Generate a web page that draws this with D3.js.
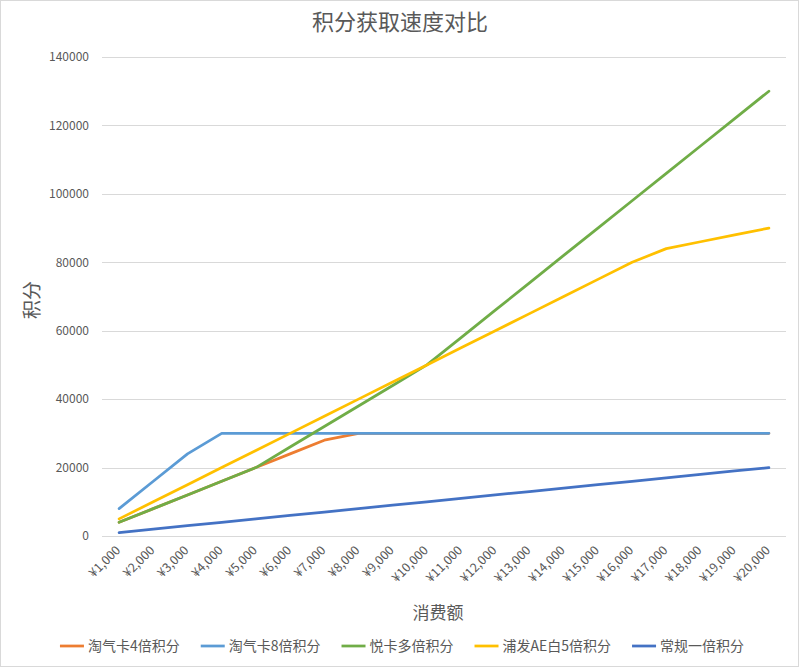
<!DOCTYPE html>
<html><head><meta charset="utf-8">
<script src="https://cdn.jsdelivr.net/npm/d3@7/dist/d3.min.js"></script>
<style>body{margin:0;background:#fff}svg{display:block}</style>
</head><body>
<svg id="chart" width="800" height="668"></svg>
<script>
const categories = ["¥1,000","¥2,000","¥3,000","¥4,000","¥5,000","¥6,000","¥7,000","¥8,000","¥9,000","¥10,000","¥11,000","¥12,000","¥13,000","¥14,000","¥15,000","¥16,000","¥17,000","¥18,000","¥19,000","¥20,000"];
const taoqi4 = [4000,8000,12000,16000,20000,24000,28000,30000,30000,30000,30000,30000,30000,30000,30000,30000,30000,30000,30000,30000];
const taoqi8 = [8000,16000,24000,30000,30000,30000,30000,30000,30000,30000,30000,30000,30000,30000,30000,30000,30000,30000,30000,30000];
const yueka = [4000,8000,12000,16000,20000,26000,32000,38000,44000,50000,58000,66000,74000,82000,90000,98000,106000,114000,122000,130000];
const pufaAE = [5000,10000,15000,20000,25000,30000,35000,40000,45000,50000,55000,60000,65000,70000,75000,80000,84000,86000,88000,90000];
const normal = [1000,2000,3000,4000,5000,6000,7000,8000,9000,10000,11000,12000,13000,14000,15000,16000,17000,18000,19000,20000];
const seriesNames = ["淘气卡4倍积分","淘气卡8倍积分","悦卡多倍积分","浦发AE白5倍积分","常规一倍积分"];
const seriesColors = ["#ED7D31","#5B9BD5","#70AD47","#FFC000","#4472C4"];
const yTicks = [0,20000,40000,60000,80000,100000,120000,140000];
const series = [taoqi4, taoqi8, yueka, pufaAE, normal];

const svg = d3.select("#chart");
const font = "'Noto Sans CJK SC','Noto Sans',sans-serif";
const txt = "#595959";
const L = 102, R = 786, T = 57, B = 536;

svg.append("rect").attr("x",0.5).attr("y",0.5).attr("width",798).attr("height",666)
  .attr("fill","#fff").attr("stroke","#d9d9d9");

const x = d3.scaleBand().domain(categories).range([L, R]).padding(0);
const y = d3.scaleLinear().domain([0, 140000]).range([B, T]);
const cx = c => x(c) + x.bandwidth()/2;

// gridlines
svg.append("g").selectAll("line").data(yTicks).join("line")
  .attr("x1", L).attr("x2", R).attr("y1", d => Math.round(y(d))+0.5).attr("y2", d => Math.round(y(d))+0.5)
  .attr("stroke", "#d9d9d9").attr("stroke-width", 1);

// y axis labels
const yAxis = svg.append("g").attr("transform", `translate(${L},0)`)
  .call(d3.axisLeft(y).tickValues(yTicks).tickSize(0).tickPadding(13).tickFormat(d3.format("d")));
yAxis.select(".domain").remove();
yAxis.selectAll("text").attr("font-family", font).attr("font-size", 12).attr("fill", txt);

// x axis labels
const xAxis = svg.append("g").attr("transform", `translate(0,${B})`)
  .call(d3.axisBottom(x).tickSize(0).tickPadding(0));
xAxis.select(".domain").remove();
xAxis.selectAll("text")
  .attr("font-family", font).attr("font-size", 12.5).attr("fill", txt)
  .attr("text-anchor", "end").attr("dy", null)
  .attr("transform", "translate(2,15) rotate(-45)");

// lines
const line = d3.line().x((d,i) => cx(categories[i])).y(d => y(d));
svg.append("g").selectAll("path").data(series).join("path")
  .attr("d", d => line(d)).attr("fill", "none")
  .attr("stroke", (d,i) => seriesColors[i]).attr("stroke-width", 2.75)
  .attr("stroke-linejoin", "round").attr("stroke-linecap", "round");

// titles
svg.append("text").attr("x", 400).attr("y", 30).attr("text-anchor", "middle")
  .attr("font-family", font).attr("font-size", 22).attr("fill", txt).text("积分获取速度对比");
svg.append("text").attr("x", 438).attr("y", 619).attr("text-anchor", "middle")
  .attr("font-family", font).attr("font-size", 17).attr("fill", txt).text("消费额");
svg.append("text").attr("transform", "translate(39,300) rotate(-90)").attr("text-anchor", "middle")
  .attr("font-family", font).attr("font-size", 19).attr("fill", txt).text("积分");

// legend
const lg = svg.append("g");
const items = lg.selectAll("g").data(seriesNames).join("g");
items.append("line").attr("x1", 0).attr("x2", 24).attr("y1", 0).attr("y2", 0)
  .attr("stroke", (d,i) => seriesColors[i]).attr("stroke-width", 2.75);
items.append("text").attr("x", 28).attr("y", 5)
  .attr("font-family", font).attr("font-size", 14).attr("fill", txt).text(d => d);
let pos = 0; const offs = [];
items.each(function(){ offs.push(pos); pos += 28 + this.querySelector("text").getComputedTextLength() + 21; });
const total = pos - 21;
const start = 402 - total/2;
items.attr("transform", (d,i) => `translate(${start + offs[i]},646)`);
</script>
</body></html>
